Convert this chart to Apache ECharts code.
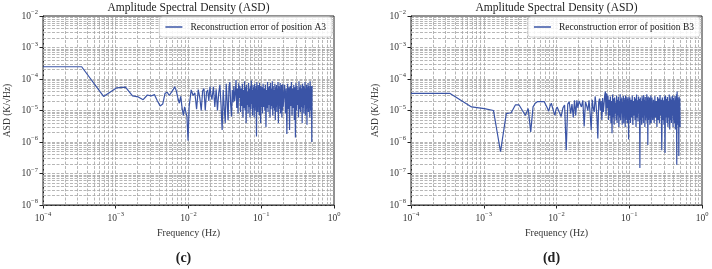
<!DOCTYPE html>
<html>
<head>
<meta charset="utf-8">
<script src="https://cdn.jsdelivr.net/npm/echarts@6/dist/echarts.min.js"></script>
<style>
html, body { margin: 0; padding: 0; background: #fff; }
#main { width: 712px; height: 269px; }
</style>
</head>
<body>
<div id="main"></div>
<script>
// frequency bins (Hz), shared by both panels
var freq = [
	0.0001, 0.00034, 0.00068, 0.00102, 0.00136, 0.0017, 0.00204, 0.00238, 0.00272, 0.00306,
	0.0034, 0.00374, 0.00408, 0.00442, 0.00476, 0.0051, 0.00544, 0.00578, 0.00612, 0.00646,
	0.0068, 0.00714, 0.00748, 0.00782, 0.00816, 0.0085, 0.00884, 0.00918, 0.00952, 0.00986,
	0.0102, 0.01088, 0.01156, 0.01224, 0.01292, 0.0136, 0.01428, 0.01496, 0.01564, 0.01632,
	0.017, 0.01768, 0.01836, 0.01904, 0.01972, 0.0204,
	0.021, 0.022, 0.023, 0.024, 0.025, 0.026, 0.027, 0.028, 0.029, 0.030,
	0.031, 0.032, 0.033, 0.034, 0.035, 0.036, 0.037, 0.038, 0.039, 0.040,
	0.041, 0.042, 0.043, 0.044, 0.045, 0.046, 0.047, 0.048, 0.049, 0.050,
	0.051, 0.052, 0.053, 0.054, 0.055, 0.056, 0.057, 0.058, 0.059, 0.060,
	0.061, 0.062, 0.063, 0.064, 0.065, 0.066, 0.067, 0.068, 0.069, 0.070,
	0.071, 0.072, 0.073, 0.074, 0.075, 0.076, 0.077, 0.078, 0.079, 0.080,
	0.081, 0.082, 0.083, 0.084, 0.085, 0.086, 0.087, 0.088, 0.089, 0.090,
	0.091, 0.092, 0.093, 0.094, 0.095, 0.096, 0.097, 0.098, 0.099, 0.100,
	0.102, 0.104, 0.106, 0.108, 0.110, 0.112, 0.114, 0.116, 0.118, 0.120,
	0.122, 0.124, 0.126, 0.128, 0.130, 0.132, 0.134, 0.136, 0.138, 0.140,
	0.142, 0.144, 0.146, 0.148, 0.150, 0.152, 0.154, 0.156, 0.158, 0.160,
	0.162, 0.164, 0.166, 0.168, 0.170, 0.172, 0.174, 0.176, 0.178, 0.180,
	0.182, 0.184, 0.186, 0.188, 0.190, 0.192, 0.194, 0.196, 0.198, 0.200,
	0.205, 0.210, 0.215, 0.220, 0.225, 0.230, 0.235, 0.240, 0.245, 0.250,
	0.255, 0.260, 0.265, 0.270, 0.275, 0.280, 0.285, 0.290, 0.295, 0.300,
	0.305, 0.310, 0.315, 0.320, 0.325, 0.330, 0.335, 0.340, 0.345, 0.350,
	0.355, 0.360, 0.365, 0.370, 0.375, 0.380, 0.385, 0.390, 0.395, 0.400,
	0.405, 0.410, 0.415, 0.420, 0.425, 0.430, 0.435, 0.440, 0.445, 0.450,
	0.455, 0.460, 0.465, 0.470, 0.475, 0.480, 0.485, 0.490, 0.495, 0.500
];

// (c) reconstruction error of position A3
var asdA3 = [
	2.45e-4, 2.45e-4, 2.8e-5, 5.2e-5, 5.5e-5, 2.9e-5, 2.7e-5, 2.2e-5, 3.1e-5, 2.9e-5,
	3.2e-5, 2.0e-5, 1.4e-5, 1.6e-5, 3.5e-5, 3.8e-5, 3.0e-5, 2.6e-5, 4.5e-5, 5.7e-5,
	4.2e-5, 2.5e-5, 1.7e-5, 2.8e-5, 1.2e-5, 7.0e-6, 1.3e-5, 9.0e-6, 6.4e-6, 1.1e-6,
	1.3e-5, 4.5e-5, 3.0e-5, 3.6e-5, 1.1e-5, 4.6e-5, 2.6e-5, 1.0e-5, 4.2e-5, 5.0e-5,
	1.0e-5, 3.8e-5, 4.5e-5, 2.0e-5, 5.7e-5, 3.0e-5,
	2.2e-5, 5.7e-5, 1.3e-5, 4.7e-5, 1.0e-5, 3.5e-5, 6.4e-5, 1.5e-5, 2.4e-6, 4.5e-5,
	1.2e-5, 4.0e-6, 7.0e-5, 2.0e-5, 5.0e-6, 5.5e-5, 8.0e-5, 1.5e-5, 6.4e-6, 4.5e-5,
	1.8e-5, 6.0e-5, 2.0e-5, 3.5e-5, 9.3e-5, 1.2e-5, 5.0e-5, 8.0e-6, 7.3e-5, 2.5e-5,
	6.0e-5, 9.0e-6, 5.0e-5, 1.4e-5, 7.0e-5, 6.0e-6, 4.5e-5, 1.2e-5, 8.5e-5, 1.0e-5,
	5.5e-5, 4.0e-6, 6.5e-5, 1.5e-5, 4.0e-5, 8.0e-6, 7.5e-5, 1.3e-5, 5.0e-5, 6.0e-6,
	6.0e-5, 1.1e-5, 9.0e-5, 1.6e-5, 4.5e-5, 7.0e-6, 6.5e-5, 1.2e-5, 5.5e-5, 6.0e-6,
	7.0e-5, 1.0e-5, 5.0e-5, 1.4e-5, 6.0e-5, 1.5e-6, 8.0e-5, 1.2e-5, 4.5e-5, 9.0e-6,
	6.5e-5, 1.5e-5, 5.5e-5, 7.0e-6, 7.5e-5, 1.1e-5, 5.0e-5, 4.0e-6, 6.0e-5, 1.3e-5,
	5.5e-5, 8.0e-6, 7.0e-5, 1.3e-5, 5.0e-5, 1.0e-5, 6.5e-5, 3.0e-6, 4.5e-5, 1.2e-5,
	8.0e-5, 9.0e-6, 5.5e-5, 1.5e-5, 6.0e-5, 6.0e-6, 7.5e-5, 1.1e-5, 5.0e-5, 1.4e-5,
	8.5e-5, 7.0e-6, 6.0e-5, 1.2e-5, 4.5e-5, 1.0e-5, 7.0e-5, 5.0e-6, 5.5e-5, 1.3e-5,
	6.5e-5, 9.0e-6, 5.0e-5, 1.6e-5, 8.0e-5, 4.0e-6, 6.0e-5, 1.1e-5, 5.5e-5, 1.4e-5,
	7.5e-5, 8.0e-6, 4.5e-5, 1.2e-5, 6.5e-5, 6.0e-6, 5.5e-5, 1.0e-5, 7.0e-5, 1.3e-5,
	1.2e-5, 6.5e-5, 8.0e-6, 5.0e-5, 1.8e-6, 7.0e-5, 1.1e-5, 5.5e-5, 2.4e-6, 6.0e-5,
	1.4e-5, 8.0e-5, 7.0e-6, 5.0e-5, 1.2e-5, 6.5e-5, 5.0e-6, 5.5e-5, 1.4e-6, 7.5e-5,
	1.0e-5, 6.0e-5, 1.5e-5, 4.5e-5, 6.0e-6, 8.5e-5, 1.1e-5, 5.5e-5, 9.0e-6, 6.5e-5,
	1.3e-5, 5.0e-5, 4.0e-6, 7.0e-5, 1.2e-5, 6.0e-5, 8.0e-6, 5.5e-5, 1.5e-5, 8.0e-5,
	7.0e-6, 5.0e-5, 1.1e-5, 6.5e-5, 3.5e-6, 5.5e-5, 1.3e-5, 7.5e-5, 9.0e-6, 6.0e-5,
	1.2e-5, 5.0e-5, 6.0e-6, 8.5e-5, 1.0e-5, 6.0e-5, 1.4e-5, 5.5e-5, 1.0e-6, 6.0e-5
];

// (d) reconstruction error of position B3
var asdB3 = [
	3.5e-5, 3.5e-5, 1.3e-5, 1.15e-5, 1.0e-5, 4.9e-7, 8.0e-6, 8.5e-6, 1.5e-5, 1.5e-5,
	1.0e-5, 7.0e-6, 1.15e-5, 2.1e-6, 1.3e-5, 1.7e-5, 1.9e-5, 1.8e-5, 1.9e-5, 1.7e-5,
	1.9e-5, 1.5e-5, 1.2e-5, 9.5e-6, 1.4e-5, 1.7e-5, 1.2e-5, 9.0e-6, 7.0e-6, 1.1e-5,
	1.3e-5, 9.0e-6, 6.4e-6, 1.2e-5, 1.5e-5, 5.5e-7, 1.6e-5, 1.9e-5, 8.0e-6, 1.6e-5,
	6.0e-6, 2.1e-5, 7.0e-6, 2.1e-5, 1.2e-5, 2.0e-5,
	2.1e-5, 1.3e-5, 2.1e-5, 3.1e-6, 1.9e-5, 1.4e-5, 1.0e-5, 2.1e-5, 8.0e-6, 2.4e-6,
	2.2e-5, 1.2e-5, 9.0e-6, 2.8e-5, 1.5e-5, 6.0e-6, 1.3e-6, 1.8e-5, 2.4e-5, 1.0e-5,
	2.0e-5, 5.0e-6, 2.5e-5, 9.0e-6, 1.6e-5, 3.0e-5, 4.0e-5, 7.0e-6, 3.5e-5, 1.2e-5,
	3.0e-5, 5.0e-6, 2.2e-5, 7.0e-6, 2.8e-5, 4.0e-6, 2.0e-5, 1.9e-6, 3.2e-5, 6.0e-6,
	2.4e-5, 3.5e-6, 2.6e-5, 8.0e-6, 1.8e-5, 5.0e-6, 3.0e-5, 4.0e-6, 2.2e-5, 7.0e-6,
	2.7e-5, 3.0e-6, 2.0e-5, 6.0e-6, 3.3e-5, 5.0e-6, 2.3e-5, 8.0e-6, 2.6e-5, 3.5e-6,
	1.9e-5, 6.0e-6, 2.9e-5, 4.0e-6, 2.2e-5, 7.0e-6, 2.5e-5, 3.0e-6, 3.0e-5, 5.0e-6,
	2.1e-5, 6.0e-6, 2.7e-5, 4.0e-6, 2.4e-5, 8.0e-6, 2.0e-5, 1.2e-6, 2.8e-5, 5.0e-6,
	2.6e-5, 4.0e-6, 2.2e-5, 6.0e-6, 3.0e-5, 3.5e-6, 2.0e-5, 7.0e-6, 2.7e-5, 5.0e-6,
	2.4e-5, 3.0e-6, 3.2e-5, 6.0e-6, 2.1e-5, 4.5e-6, 2.8e-5, 8.0e-6, 2.3e-5, 1.5e-7,
	2.6e-5, 5.0e-6, 2.0e-5, 3.5e-6, 2.9e-5, 6.0e-6, 2.4e-5, 4.0e-6, 3.1e-5, 7.0e-6,
	2.2e-5, 3.0e-6, 2.7e-5, 5.0e-6, 2.0e-5, 6.0e-6, 3.3e-5, 4.0e-6, 2.5e-5, 8.0e-7,
	2.8e-5, 5.0e-6, 2.1e-5, 7.0e-6, 2.6e-5, 3.5e-6, 2.3e-5, 6.0e-6, 3.0e-5, 4.0e-6,
	2.6e-5, 5.0e-6, 2.2e-5, 4.0e-6, 2.9e-5, 6.0e-6, 2.0e-5, 3.0e-6, 2.7e-5, 5.0e-6,
	2.4e-5, 4.0e-6, 3.1e-5, 7.0e-6, 2.2e-5, 5.5e-7, 2.6e-5, 5.0e-6, 2.1e-5, 3.5e-6,
	2.8e-5, 4.5e-7, 3.0e-5, 6.0e-6, 2.3e-5, 4.0e-6, 2.7e-5, 3.0e-6, 2.0e-5, 6.0e-6,
	3.2e-5, 2.5e-6, 2.4e-5, 5.0e-6, 2.8e-5, 4.0e-6, 2.2e-5, 7.0e-6, 3.0e-5, 3.0e-6,
	2.5e-5, 5.0e-6, 2.1e-5, 4.0e-6, 2.9e-5, 2.5e-6, 2.4e-5, 6.0e-6, 3.3e-5, 1.9e-7,
	4.0e-5, 5.0e-6, 2.6e-5, 3.5e-6, 2.2e-5, 3.6e-7, 2.8e-5, 4.0e-6, 2.4e-5, 3.0e-6
];

var seriesNames = ['Reconstruction error of position A3', 'Reconstruction error of position B3'];
var panelLabels = ['(c)', '(d)'];
var xDecades = [1e-4, 1e-3, 1e-2, 1e-1];
var yDecades = [1e-8, 1e-7, 1e-6, 1e-5, 1e-4, 1e-3];
var minorSteps = [1, 2, 3, 4, 5, 6, 7, 8, 9];

var FONT = 'Liberation Serif';
var LINE_COLOR = '#3a54a6';
var GRID_COLOR = '#a3a3a3';
var panelLeft = [43, 411];
var panelWidth = 291;
var X_MIN = 1e-4, X_MAX = 1, Y_MIN = 1e-8, Y_MAX = 1e-2;

function pow10Label(v) {
	var e = Math.round(Math.log(v) / Math.LN10);
	var s = e < 0 ? '\u2212' + (-e) : '' + e;
	return '{b|10}{s|' + s + '}';
}

var tickRich = {
	b: { fontSize: 9.5, fontFamily: FONT, color: '#333' },
	s: { fontSize: 6.5, fontFamily: FONT, color: '#333', padding: [0, 0, 7, 0] }
};

/**
 * 网格线: one segment per decade step, spanning the axis range
 */
function gridSegments() {
	var segs = [];
	xDecades.forEach(function(d) {
		minorSteps.forEach(function(m) {
			segs.push({ coords: [[d * m, Y_MIN], [d * m, Y_MAX]] });
		});
	});
	yDecades.forEach(function(d) {
		minorSteps.forEach(function(m) {
			segs.push({ coords: [[X_MIN, d * m], [X_MAX, d * m]] });
		});
	});
	return segs;
}

var grids = [], xAxes = [], yAxes = [], series = [], legends = [], titles = [];
var values = [asdA3, asdB3];

for (var i = 0; i < 2; i++) {
	grids.push({
		left: panelLeft[i], top: 16, width: panelWidth, height: 189,
		show: true, borderColor: '#222', borderWidth: 1, backgroundColor: 'transparent'
	});
	xAxes.push({
		type: 'log', logBase: 10, gridIndex: i, min: X_MIN, max: X_MAX,
		name: 'Frequency (Hz)', nameLocation: 'middle', nameGap: 18,
		nameTextStyle: { fontFamily: FONT, fontSize: 10, color: '#333' },
		axisLine: { show: true, lineStyle: { color: '#222', width: 1 } },
		axisTick: { show: true, inside: false, length: 3.5, lineStyle: { color: '#222' } },
		axisLabel: { margin: 6, formatter: pow10Label, rich: tickRich },
		splitLine: { show: false }
	});
	yAxes.push({
		type: 'log', logBase: 10, gridIndex: i, min: Y_MIN, max: Y_MAX,
		name: 'ASD (K/\u221AHz)', nameLocation: 'middle', nameGap: 31, nameRotate: 90,
		nameTextStyle: { fontFamily: FONT, fontSize: 9.5, color: '#333' },
		axisLine: { show: true, lineStyle: { color: '#222', width: 1 } },
		axisTick: { show: true, inside: false, length: 3.5, lineStyle: { color: '#222' } },
		axisLabel: { margin: 5, formatter: pow10Label, rich: tickRich },
		splitLine: { show: false }
	});
	// dashed grid first so the curve sits on top
	series.push({
		type: 'lines', coordinateSystem: 'cartesian2d', xAxisIndex: i, yAxisIndex: i,
		z: 1, silent: true, polyline: false, symbol: ['none', 'none'],
		lineStyle: { color: GRID_COLOR, type: [3, 1.5], width: 0.8, opacity: 1 },
		data: gridSegments()
	});
	series.push({
		name: seriesNames[i], type: 'line', xAxisIndex: i, yAxisIndex: i, z: 5,
		showSymbol: false, symbol: 'none',
		lineStyle: { color: LINE_COLOR, width: 1.2 },
		itemStyle: { color: LINE_COLOR },
		data: freq.map(function(f, k) { return [f, values[i][k]]; })
	});
	legends.push({
		data: [seriesNames[i]], top: 17, right: 712 - (panelLeft[i] + panelWidth) + 2,
		orient: 'horizontal', icon: 'rect', itemWidth: 17, itemHeight: 1.5,
		padding: [5, 6, 5, 6], itemGap: 6,
		backgroundColor: 'rgba(255,255,255,0.85)', borderColor: '#d4d4d4',
		borderWidth: 1, borderRadius: 3,
		textStyle: { fontFamily: FONT, fontSize: 9.5, color: '#222', padding: [0, 0, 0, 3] }
	});
	titles.push({
		text: 'Amplitude Spectral Density (ASD)',
		left: panelLeft[i] + panelWidth / 2, textAlign: 'center', top: 2, padding: 0,
		textStyle: { fontFamily: FONT, fontSize: 11.5, fontWeight: 'normal', color: '#222' }
	});
	titles.push({
		text: panelLabels[i],
		left: panelLeft[i] + panelWidth / 2 - 5, textAlign: 'center', top: 251, padding: 0,
		textStyle: { fontFamily: FONT, fontSize: 14, fontWeight: 'bold', color: '#222' }
	});
}

var option = {
	animation: false,
	backgroundColor: '#fff',
	title: titles,
	legend: legends,
	grid: grids,
	xAxis: xAxes,
	yAxis: yAxes,
	series: series
};

var myChart = echarts.init(document.getElementById('main'), null, { renderer: 'canvas' });
myChart.setOption(option);
</script>
</body>
</html>
